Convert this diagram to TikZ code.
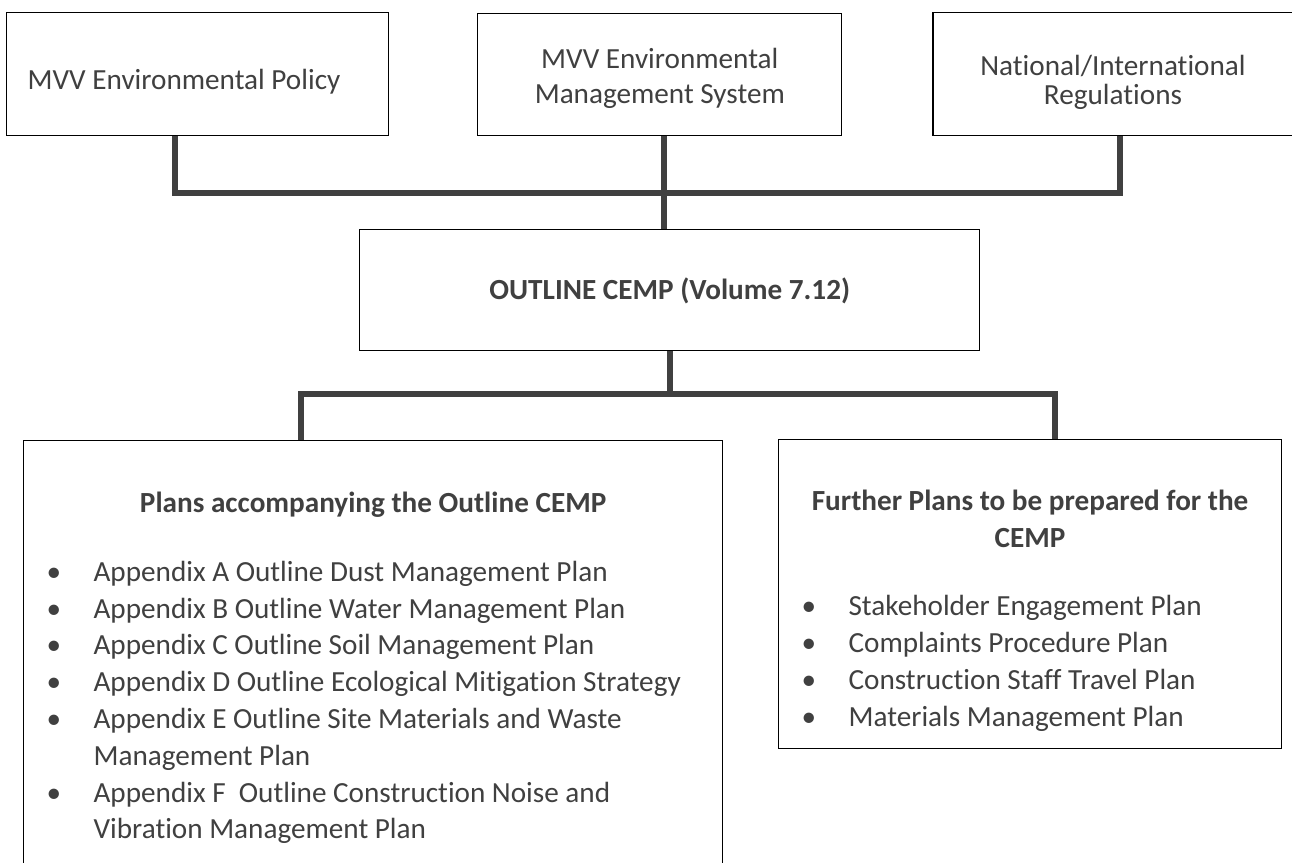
\documentclass[tikz,border=0pt]{standalone}
\usepackage{fontspec}
\setmainfont{Carlito}[Ligatures=NoCommon]
\usepackage{tikz}
\usetikzlibrary{positioning}
\definecolor{ink}{HTML}{404040}
\tikzset{>=latex}
\def\plansize{\fontsize{14.6}{18.4}\selectfont}
\def\planitem#1{\par\noindent\hangindent=35pt\hangafter=1\makebox[35pt][l]{\hspace{11.5pt}\textbullet}#1\strut\par}

\begin{document}
\begin{tikzpicture}[x=0.5pt, y=-0.5pt,
    box/.style={draw=black, line width=0.6pt, fill=white, text=ink, inner sep=0pt, font=\plansize},
    link/.style={draw=ink, line width=3pt}]
  \useasboundingbox (0,0) rectangle (1292,863);
  \clip (0,0) rectangle (1292,863);

  % top row
  \node[box, anchor=north west] (pol) at (6,12) {\parbox[c][61.5pt][t]{191pt}{\plansize\vspace*{25.6pt}%
    \hspace*{10.5pt}\strut MVV Environmental Policy}};
  \node[box, right=44pt of pol] (ems) {\parbox[c][61pt][t]{182pt}{\fontsize{14.6}{17.5}\selectfont\lineskiplimit=-20pt\vspace*{15.25pt}%
    \centering\strut MVV Environmental\\ Management System}};
  \node[box, right=45pt of ems] (reg) {\parbox[c][61.5pt][t]{180pt}{\fontsize{14.6}{14.15}\selectfont\lineskiplimit=-20pt\vspace*{21.45pt}%
    \centering\strut National/International\\ Regulations}};
  \node[box, below=46.5pt of ems, xshift=5pt] (cemp) {\parbox[c][60.5pt][t]{310pt}{\plansize\vspace*{21.97pt}%
    \centering\bfseries\strut OUTLINE CEMP (Volume 7.12)}};

  % plans
  \node[box, anchor=north west] (acc) at (23,440) {\parbox[c][240pt][t]{349.5pt}{\plansize\vspace*{23pt}%
    {\centering\bfseries\strut Plans accompanying the Outline CEMP\par}
    \vspace{16.1pt}
    \planitem{Appendix A Outline Dust Management Plan}
    \planitem{Appendix B Outline Water Management Plan}
    \planitem{Appendix C Outline Soil Management Plan}
    \planitem{Appendix D Outline Ecological Mitigation Strategy}
    \planitem{Appendix E Outline Site Materials and Waste\\ Management Plan}
    \planitem{Appendix F~ Outline Construction Noise and\\ Vibration Management Plan}}};
  \node[box, anchor=north west] (fur) at (778,439) {\parbox[c][154.5pt][t]{251.5pt}{\plansize\vspace*{22.6pt}%
    {\centering\bfseries\strut Further Plans to be prepared for the\\ CEMP\par}
    \vspace{15.8pt}
    \planitem{Stakeholder Engagement Plan}
    \planitem{Complaints Procedure Plan}
    \planitem{Construction Staff Travel Plan}
    \planitem{Materials Management Plan}}};

  \coordinate (busA) at (664,193);
  \coordinate (busB) at (670,394);

  \draw[link] ([xshift=-11.5pt]pol.south) |- (busA) -| ([xshift=3.5pt]reg.south);
  \draw[link] (ems.south -| busA) -- (cemp.north -| busA);
  \draw[link] (cemp.south -| busB) -- (busB);
  \draw[link] ([xshift=-36.25pt]acc.north) |- (busB) -| ([xshift=12.25pt]fur.north);
\end{tikzpicture}
\end{document}
